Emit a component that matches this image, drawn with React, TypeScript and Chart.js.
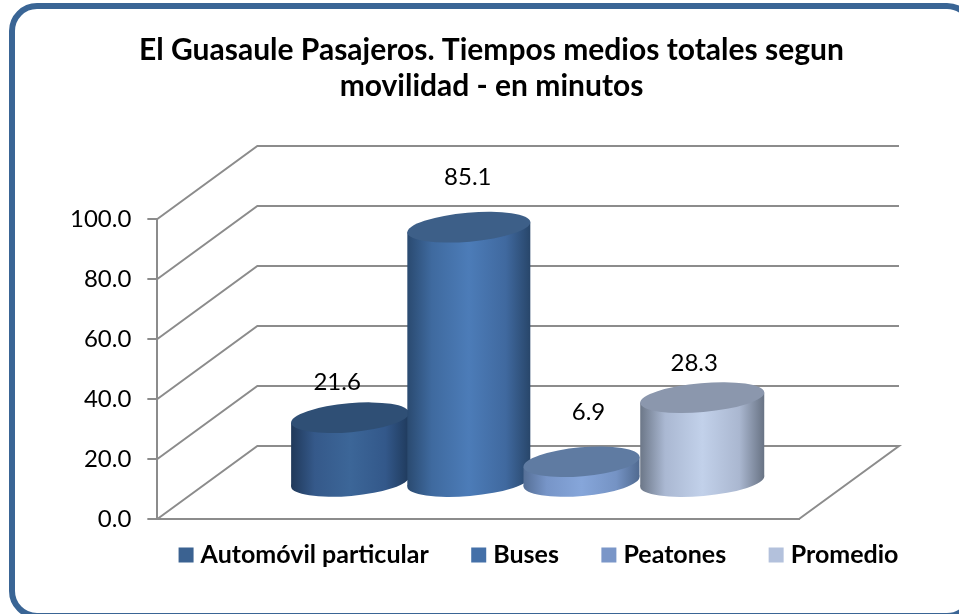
import React, { useEffect, useRef } from "react";
import { Chart, registerables } from "chart.js";

Chart.register(...registerables);

const categories = [""];
const seriesNames = ["Automóvil particular", "Buses", "Peatones", "Promedio"];
const automovilValues = [21.6];
const busesValues = [85.1];
const peatonesValues = [6.9];
const promedioValues = [28.3];
const yTickValues = [0, 20, 40, 60, 80, 100];
const titleLines = ["El Guasaule Pasajeros. Tiempos medios totales segun", "movilidad - en minutos"];

const legendColors = ["#3b6291", "#4470a8", "#7a96c8", "#b3c1dc"];
const sideStops = [
  ["#20395a", "#35598a", "#3c6698", "#33588a", "#1f3a5c"],
  ["#2a4a70", "#3f6a9f", "#4c7cb8", "#40699f", "#28466a"],
  ["#556f96", "#7795c8", "#86a6da", "#7593c4", "#506a90"],
  ["#6c7788", "#aab8d2", "#c2d1ea", "#aab7d0", "#687384"],
];
const topColors = ["#2f4f75", "#3d5f88", "#5f7ba2", "#8b97ad"];
const nudgeX = [0, 0, -6, -4];
const radiusX = [59, 61.5, 58, 62];
const labelOffsetsX = [-13, -1, 1, -12];
const labelOffsetsY = [-72, -86, -86, -71];
const DEPTH_X = 100;
const DEPTH_Y = -73;
const RY = 14.5;
const TILT = (-5 * Math.PI) / 180;
const FONT = "Lato, 'Open Sans', sans-serif";

const cylinderPlugin = {
  id: "cylinders",
  afterLayout(chart: any) {
    const t = chart.titleBlock;
    if (t) {
      t.left -= 15;
      t.right -= 15;
    }
    const l = chart.legend;
    if (l) {
      l.left += 34.75;
      l.right += 34.75;
      l.top = 494.5;
    }
  },
  beforeDatasetsDraw(chart: any) {
    const { ctx, chartArea, scales } = chart;
    const y = scales.y;
    ctx.save();
    ctx.strokeStyle = "#8c8c8c";
    ctx.lineWidth = 2;
    for (const v of yTickValues) {
      const py = y.getPixelForValue(v);
      ctx.beginPath();
      ctx.moveTo(chartArea.left, py);
      ctx.lineTo(chartArea.left + DEPTH_X, py + DEPTH_Y);
      ctx.lineTo(chartArea.right + DEPTH_X, py + DEPTH_Y);
      if (v === 0) {
        ctx.lineTo(chartArea.right, py);
      }
      ctx.stroke();
    }
    ctx.restore();
  },
  beforeDatasetDraw() {
    return false;
  },
  afterDatasetsDraw(chart: any) {
    const { ctx } = chart;
    chart.data.datasets.forEach((_: any, i: number) => {
      const bar = chart.getDatasetMeta(i).data[0];
      const rx = radiusX[i];
      const cx = bar.x + DEPTH_X / 2 + nudgeX[i];
      const topY = bar.y + DEPTH_Y / 2;
      const baseY = bar.base + DEPTH_Y / 2;
      const edge = 5;
      const xl = cx - rx;
      const xr = cx + rx;
      const g = ctx.createLinearGradient(xl, 0, xr, 0);
      [0, 0.2, 0.5, 0.8, 1].forEach((s, k) => g.addColorStop(s, sideStops[i][k]));
      ctx.save();
      ctx.fillStyle = g;
      ctx.beginPath();
      ctx.ellipse(cx, baseY, rx * 1.004, RY, TILT, 0, Math.PI * 2);
      ctx.fill();
      ctx.beginPath();
      ctx.moveTo(xl, topY + edge);
      ctx.lineTo(xl, baseY + edge);
      ctx.lineTo(xr, baseY - edge);
      ctx.lineTo(xr, topY - edge);
      ctx.closePath();
      ctx.fill();
      ctx.fillStyle = topColors[i];
      ctx.beginPath();
      ctx.ellipse(cx, topY, rx * 1.004, RY, TILT, 0, Math.PI * 2);
      ctx.fill();
      ctx.restore();
    });
  },
  afterDraw(chart: any) {
    const { ctx } = chart;
    ctx.save();
    ctx.fillStyle = "#000";
    ctx.font = `24px ${FONT}`;
    ctx.textAlign = "center";
    ctx.textBaseline = "middle";
    chart.data.datasets.forEach((ds: any, i: number) => {
      const bar = chart.getDatasetMeta(i).data[0];
      ctx.fillText(
        ds.data[0].toFixed(1),
        bar.x + DEPTH_X / 2 + labelOffsetsX[i],
        bar.y + labelOffsetsY[i]
      );
    });
    ctx.restore();
  },
};

export default function App() {
  const ref = useRef<HTMLCanvasElement>(null);
  useEffect(() => {
    const seriesValues = [automovilValues, busesValues, peatonesValues, promedioValues];
    const chart = new Chart(ref.current as HTMLCanvasElement, {
      type: "bar",
      data: {
        labels: categories,
        datasets: seriesNames.map((name, i) => ({
          label: name,
          data: seriesValues[i],
          backgroundColor: legendColors[i],
          borderColor: legendColors[i],
          borderWidth: 11,
          barPercentage: 1,
          categoryPercentage: 0.74,
        })),
      },
      plugins: [cylinderPlugin],
      options: {
        responsive: false,
        animation: false,
        layout: { padding: { left: 54, right: 0, top: 32, bottom: 12 } },
        plugins: {
          tooltip: { enabled: false },
          title: {
            display: true,
            text: titleLines,
            color: "#000",
            font: { family: FONT, size: 30, weight: "bold", lineHeight: 1.2 },
            padding: { top: 0, bottom: 115 },
          },
          legend: {
            position: "bottom",
            labels: {
              color: "#000",
              font: { family: FONT, size: 25, weight: "bold" },
              boxWidth: 4,
              boxHeight: 4,
              padding: 48,
            },
          },
        },
        scales: {
          x: {
            grid: { drawOnChartArea: false, drawTicks: false },
            ticks: { display: false },
            border: { color: "#8c8c8c", width: 2 },
          },
          y: {
            min: 0,
            max: 100,
            afterBuildTicks(axis: any) {
              axis.ticks = yTickValues.map((value) => ({ value }));
            },
            grid: { drawOnChartArea: false, color: "#8c8c8c", lineWidth: 2, tickLength: 10 },
            border: { color: "#8c8c8c", width: 2 },
            ticks: {
              color: "#000",
              font: { family: FONT, size: 24 },
              padding: 16,
              callback: (v: any) => Number(v).toFixed(1),
            },
          },
          depthMargin: {
            position: "right",
            grid: { display: false },
            border: { display: false },
            ticks: { display: false },
            afterFit(axis: any) {
              axis.width = 160;
            },
          },
        },
      },
    } as any);
    return () => chart.destroy();
  }, []);
  return (
    <div style={{ position: "absolute", left: 0, top: 0, width: 959, height: 614, overflow: "hidden", background: "#fff" }}>
      <div
        style={{
          position: "absolute",
          left: 9,
          top: 3,
          width: 966,
          height: 616,
          boxSizing: "border-box",
          border: "6px solid #3a6595",
          borderRadius: 28,
        }}
      />
      <canvas ref={ref} width={959} height={614} style={{ position: "absolute", left: 0, top: 0 }} />
    </div>
  );
}
